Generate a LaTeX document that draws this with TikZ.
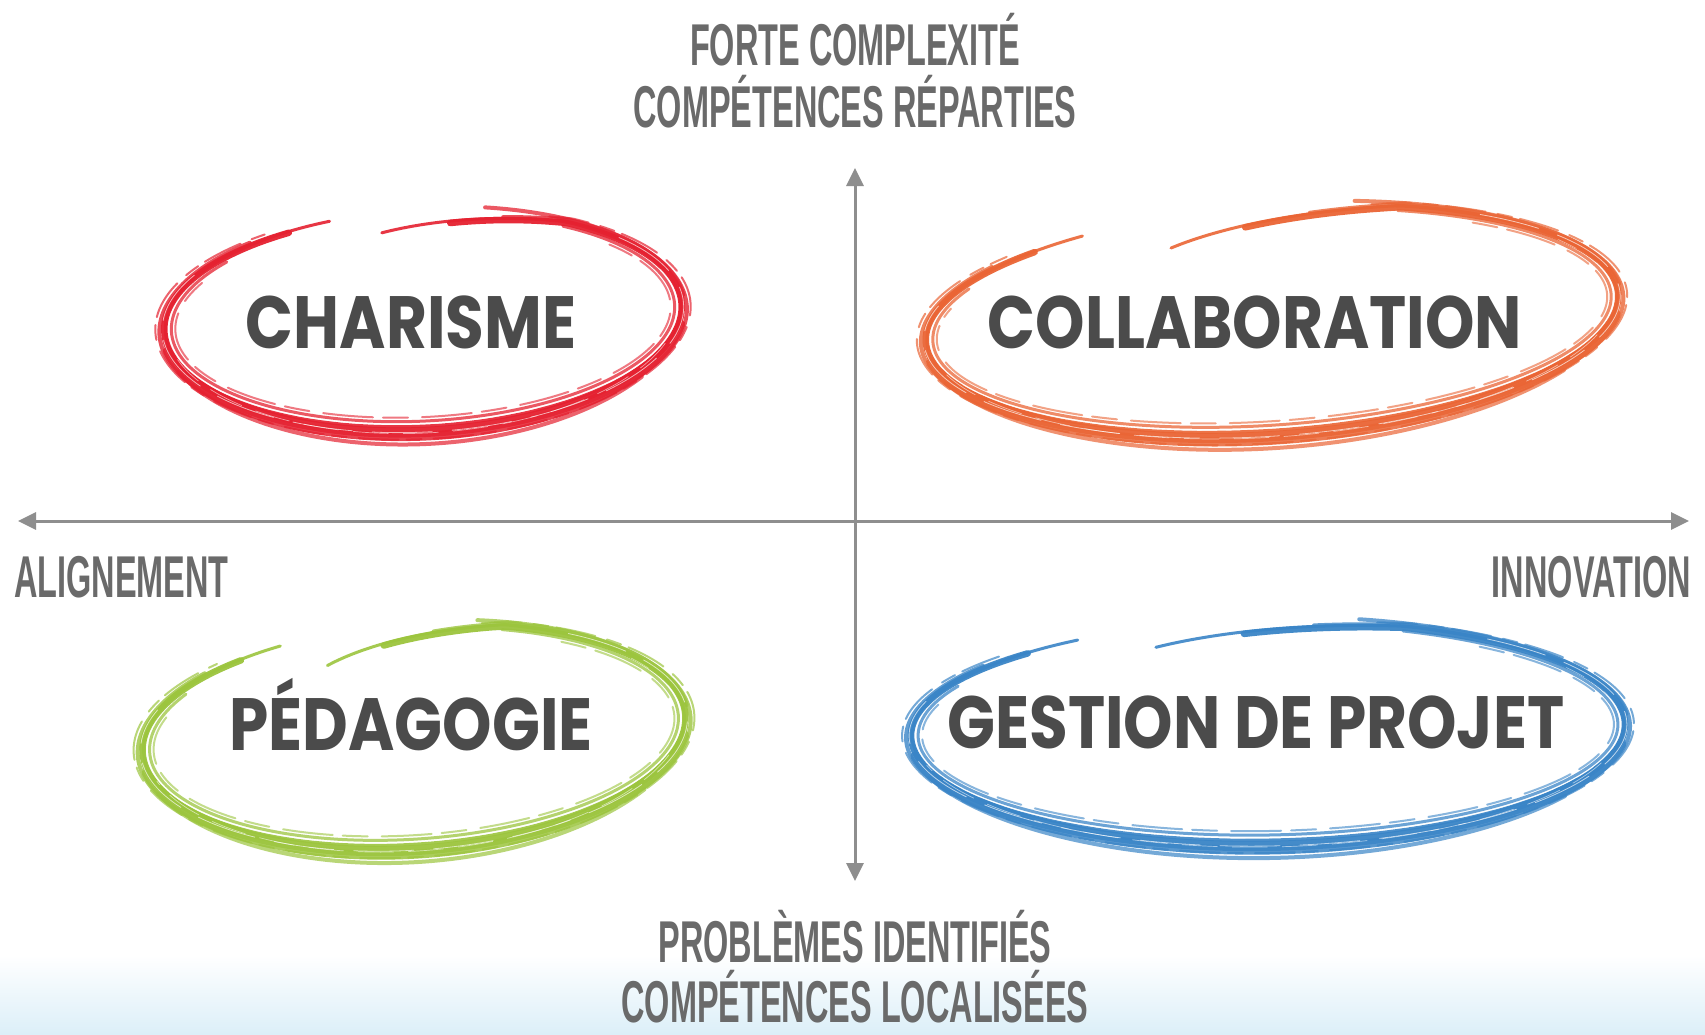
\documentclass[tikz,border=0pt]{standalone}
\usepackage{fontspec}
\usetikzlibrary{arrows.meta}
\newfontfamily\labfont{Poppins}[FakeStretch=0.85]
\newfontfamily\axfont{Liberation Sans}[FakeStretch=0.55]
\definecolor{cred}{HTML}{E52130}
\definecolor{corange}{HTML}{EA6535}
\definecolor{cgreen}{HTML}{9CC53E}
\definecolor{cblue}{HTML}{3A85C7}
\definecolor{labgray}{HTML}{4B4B4B}
\definecolor{axgray}{HTML}{6A6A6A}
\definecolor{linegray}{HTML}{8E8E8E}
\definecolor{bgblue}{HTML}{DCEFF8}
% #1 cx, #2 cy, #3 rx, #4 ry, #5 rotation, #6 colour, #7 start angle, #8 end angle, #9 start radius factor
\newcommand{\scribloop}[9]{%
\begin{scope}[shift={(#1,#2)},rotate=#5,draw=#6,line cap=round,line join=round]
 \def\F{(1-(1-#9)*max(0,(#7+45-\t)/45))}
 \draw[line width=3pt,opacity=.9] plot[smooth,domain=#7:#8,samples=120,variable=\t]
   ({#3*\F*cos(\t)},{#4*\F*sin(\t)});
 \draw[line width=6.5pt,opacity=.95] plot[smooth,domain=#7+18:#8-10,samples=120,variable=\t]
   ({(#3*\F+1)*cos(\t)},{(#4*\F+1+3*sin(\t))*sin(\t)});
 \draw[line width=4pt,opacity=.8] plot[smooth,domain=#7+30:#8-20,samples=120,variable=\t]
   ({(#3*\F+6+2*sin(3*\t))*cos(\t)},{(#4*\F+5+4*sin(\t))*sin(\t)});
 \draw[line width=3pt,opacity=.75] plot[smooth,domain=#7+45:#8-30,samples=120,variable=\t]
   ({(#3*\F-6)*cos(\t)},{(#4*\F-5)*sin(\t)});
 \draw[line width=2pt,opacity=.7,dash pattern=on 40pt off 12pt on 15pt off 8pt] plot[smooth,domain=#7+40:#8-15,samples=120,variable=\t]
   ({(#3*\F+10)*cos(\t)},{(#4*\F+8+5*sin(\t))*sin(\t)});
 \draw[line width=2pt,opacity=.6,dash pattern=on 25pt off 10pt on 50pt off 14pt] plot[smooth,domain=#7+60:#8-40,samples=120,variable=\t]
   ({(#3*\F-10)*cos(\t)},{(#4*\F-9)*sin(\t)});
 \draw[line width=9pt,opacity=.85] plot[smooth,domain=10:170,samples=80,variable=\t]
   ({(#3+3)*cos(\t)},{(#4+4+6*sin(\t))*sin(\t)});
 \draw[line width=4pt,opacity=.7] plot[smooth,domain=35:160,samples=80,variable=\t]
   ({(#3+5)*cos(\t)},{(#4+9+9*sin(\t))*sin(\t)});
 \draw[line width=4pt,opacity=.75] plot[smooth,domain=285:355,samples=60,variable=\t]
   ({(#3+4)*cos(\t)},{(#4+3)*sin(\t)});
 \draw[white,line width=.8pt,opacity=.65,dash pattern=on 60pt off 20pt] plot[smooth,domain=#7+60:#8-40,samples=120,variable=\t]
   ({(#3*\F+3)*cos(\t)},{(#4*\F+3+3*sin(\t))*sin(\t)});
 \draw[white,line width=.7pt,opacity=.55,dash pattern=on 35pt off 15pt] plot[smooth,domain=20:165,samples=80,variable=\t]
   ({(#3-2)*cos(\t)},{(#4+1+6*sin(\t))*sin(\t)});
 \draw[white,line width=.6pt,opacity=.5,dash pattern=on 20pt off 25pt] plot[smooth,domain=#7+80:#8-60,samples=120,variable=\t]
   ({(#3*\F-3)*cos(\t)},{(#4*\F-2)*sin(\t)});
\end{scope}}
\tikzset{
  lab/.style={font=\labfont\bfseries\fontsize{74}{80}\selectfont,text=labgray,anchor=base,inner sep=0pt},
  axlab/.style={font=\axfont\bfseries\fontsize{59}{66}\selectfont,text=axgray,anchor=base,inner sep=0pt},
  axis/.style={draw=linegray,line width=3pt,{Triangle[width=17pt,length=18pt]}-{Triangle[width=17pt,length=18pt]}}
}
\begin{document}
\begin{tikzpicture}[x=1pt,y=-1pt]
\useasboundingbox (0,0) rectangle (1705,1034);
\fill[white] (0,0) rectangle (1705,1034);
\shade[top color=white,bottom color=bgblue] (0,955) rectangle (1705,1034);
% axes
\coordinate (top) at (855,168);
\coordinate (bottom) at (855,881);
\coordinate (left) at (18,521);
\coordinate (right) at (1689,521);
\draw[axis] (left) -- (right);
\draw[axis] (bottom) -- (top);
% axis labels
\node[axlab] (t1) at (855,65) {FORTE COMPLEXITÉ};
\node[axlab] (t2) at (855,127) {COMPÉTENCES RÉPARTIES};
\node[axlab] (b1) at (855,962) {PROBLÈMES IDENTIFIÉS};
\node[axlab] (b2) at (855,1022) {COMPÉTENCES LOCALISÉES};
\node[axlab,anchor=base west] (al) at (14,597) {ALIGNEMENT};
\node[axlab,anchor=base east] (in) at (1691,597) {INNOVATION};
% scribbled ellipses
\scribloop{423}{318}{258}{108}{3}{cred}{260}{610}{0.82}
\scribloop{1272}{318}{346}{112}{4}{corange}{248}{598}{0.74}
\scribloop{414}{734}{271}{110}{4}{cgreen}{246}{602}{0.74}
\scribloop{1268}{730}{356}{110}{1}{cblue}{248}{598}{0.83}
% labels
\node[lab] (cha) at (411,348) {CHARISME};
\node[lab] (col) at (1255,348) {COLLABORATION};
\node[lab] (ped) at (411,750) {PÉDAGOGIE};
\node[lab] (ges) at (1256,748) {GESTION DE PROJET};
\end{tikzpicture}
\end{document}
